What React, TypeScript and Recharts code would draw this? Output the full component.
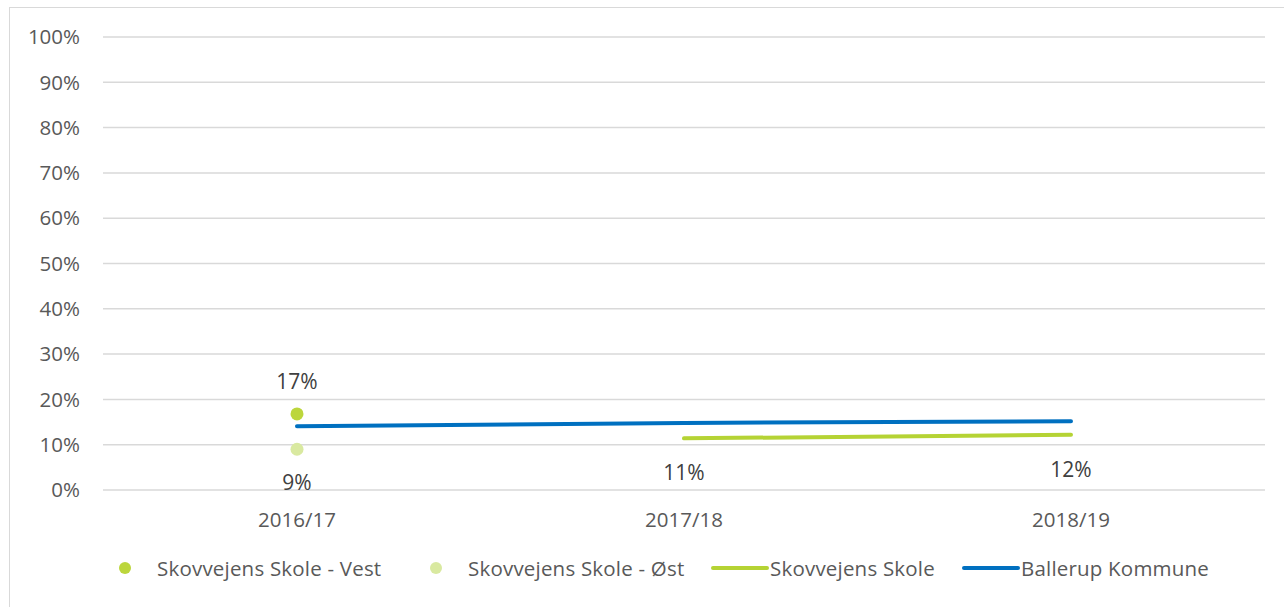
import React from 'react';
import { LineChart, Line, XAxis, YAxis, CartesianGrid, LabelList, Legend } from 'recharts';

const categories = ['2016/17', '2017/18', '2018/19'];
const vestValues: (number | null)[] = [16.8, null, null];
const oestValues: (number | null)[] = [9.0, null, null];
const skoleValues: (number | null)[] = [null, 11.4, 12.2];
const ballerupValues: (number | null)[] = [14.1, 14.8, 15.2];
const yTicks = [0, 10, 20, 30, 40, 50, 60, 70, 80, 90, 100];

const seriesNames = ['Skovvejens Skole - Vest', 'Skovvejens Skole - Øst', 'Skovvejens Skole', 'Ballerup Kommune'];
const seriesColors = ['#bcd63c', '#d9e9a0', '#b5d334', '#0070c0'];
const seriesKinds = ['dot', 'dot', 'line', 'line'];
const legendLefts = [117, 428, 711, 962];

const data = categories.map((c, i) => ({
  cat: c,
  vest: vestValues[i],
  oest: oestValues[i],
  skole: skoleValues[i],
  ballerup: ballerupValues[i],
}));

const FONT = '"Open Sans", Lato, sans-serif';
const fmt = (v: any) => (v === null || v === undefined ? '' : `${Math.round(Number(v))}%`);

const LegendContent = () => (
  <div style={{ position: 'relative', width: 1284, height: 30, fontFamily: FONT }}>
    {seriesNames.map((name, i) => (
      <div
        key={name}
        style={{
          position: 'absolute',
          left: legendLefts[i],
          top: 0,
          height: 30,
          display: 'flex',
          alignItems: 'center',
          whiteSpace: 'nowrap',
          color: '#595959',
          fontSize: 20.5,
        }}
      >
        {seriesKinds[i] === 'dot' ? (
          <svg width={40} height={30} style={{ display: 'block' }}>
            <circle cx={8} cy={15} r={6} fill={seriesColors[i]} />
          </svg>
        ) : (
          <svg width={59} height={30} style={{ display: 'block' }}>
            <line x1={2} y1={15} x2={56} y2={15} stroke={seriesColors[i]} strokeWidth={4} strokeLinecap="round" />
          </svg>
        )}
        <span style={{ letterSpacing: 0.2 }}>{name}</span>
      </div>
    ))}
  </div>
);

export default function App() {
  return (
    <div style={{ position: 'absolute', left: 0, top: 0, width: 1284, height: 607, background: '#fff', overflow: 'hidden' }}>
      <div
        style={{
          position: 'absolute',
          left: 9,
          top: 7,
          width: 1300,
          height: 620,
          borderTop: '1.5px solid #d9d9d9',
          borderLeft: '1.5px solid #d9d9d9',
        }}
      />
      <div style={{ position: 'absolute', left: 0, top: 0 }}>
        <LineChart
          width={1284}
          height={607}
          data={data}
          margin={{ top: 37, right: 19, left: 43, bottom: 77 }}
          style={{ fontFamily: FONT }}
        >
          <CartesianGrid vertical={false} stroke="#d9d9d9" strokeWidth={1.5} />
          <XAxis
            dataKey="cat"
            type="category"
            axisLine={false}
            tickLine={false}
            tickSize={0}
            tickMargin={22}
            height={40}
            padding={{ left: 194, right: 194 }}
            tick={{ fill: '#595959', fontSize: 20.5 }}
          />
          <YAxis
            type="number"
            domain={[0, 100]}
            ticks={yTicks}
            interval={0}
            axisLine={false}
            tickLine={false}
            tickSize={0}
            tickMargin={23}
            width={60}
            tickFormatter={(v: number) => `${v}%`}
            tick={{ fill: '#595959', fontSize: 20.5 }}
          />
          <Legend
            layout="horizontal"
            verticalAlign="middle"
            align="center"
            content={<LegendContent />}
            wrapperStyle={{ top: 553, left: 0, width: 1284, height: 30 }}
          />
          <Line
            dataKey="vest"
            name={seriesNames[0]}
            stroke="none"
            dot={{ r: 6.5, fill: seriesColors[0], stroke: 'none' }}
            activeDot={false}
            isAnimationActive={false}
          >
            <LabelList dataKey="vest" position="top" offset={25} formatter={fmt} fill="#404040" fontSize={21} />
          </Line>
          <Line
            dataKey="oest"
            name={seriesNames[1]}
            stroke="none"
            dot={{ r: 6.5, fill: seriesColors[1], stroke: 'none' }}
            activeDot={false}
            isAnimationActive={false}
          >
            <LabelList dataKey="oest" position="bottom" offset={26} formatter={fmt} fill="#404040" fontSize={21} />
          </Line>
          <Line
            dataKey="skole"
            name={seriesNames[2]}
            stroke={seriesColors[2]}
            strokeWidth={4}
            strokeLinecap="round"
            dot={false}
            activeDot={false}
            isAnimationActive={false}
          >
            <LabelList dataKey="skole" position="bottom" offset={27} formatter={fmt} fill="#404040" fontSize={21} />
          </Line>
          <Line
            dataKey="ballerup"
            name={seriesNames[3]}
            stroke={seriesColors[3]}
            strokeWidth={4}
            strokeLinecap="round"
            dot={false}
            activeDot={false}
            isAnimationActive={false}
          />
        </LineChart>
      </div>
    </div>
  );
}
